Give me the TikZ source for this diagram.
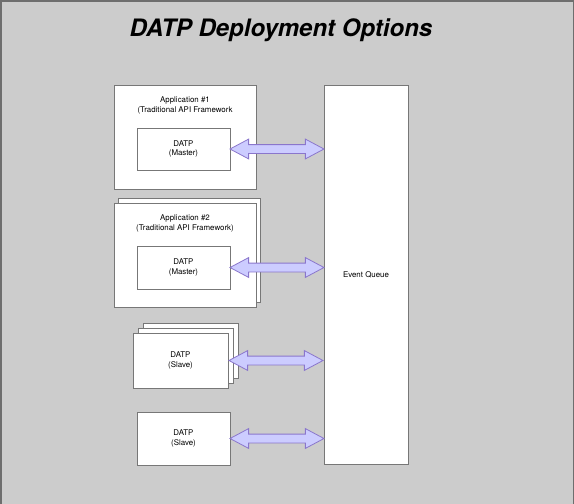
\documentclass[tikz,border=0pt]{standalone}
\usepackage{fontspec}
\setmainfont{TeX Gyre Heros}
\usetikzlibrary{shapes.arrows}

\definecolor{canvasgray}{HTML}{CCCCCC}
\definecolor{framegray}{HTML}{6E6E6E}
\definecolor{boxgray}{HTML}{777777}
\definecolor{arrowfill}{HTML}{CCCCFF}
\definecolor{arrowdraw}{HTML}{8A76CC}

\tikzset{
    box/.style={draw=boxgray, fill=white, line width=0.8pt, inner sep=0pt,
        align=center, font=\fontsize{7.9}{9.6}\selectfont},
    boxtext/.style={align=center, inner sep=0pt, font=\fontsize{7.9}{9.6}\selectfont},
    bigarrow/.style={double arrow, draw=arrowdraw, fill=arrowfill, line width=0.8pt,
        inner sep=4pt, minimum height=94pt, double arrow head extend=5.5pt,
        double arrow tip angle=56},
}

\begin{document}
\begin{tikzpicture}[x=1pt, y=-1pt]
    \fill[canvasgray] (0, 0) rectangle (574, 504);
    \useasboundingbox (0, 0) rectangle (574, 504);
    \draw[framegray, line width=3pt] (0, 504) -- (0, 0) -- (574, 0) -- (574, 504);

    \node[font=\fontsize{24}{28}\selectfont\bfseries\itshape] (title) at (281, 30) {DATP Deployment Options};

    % event queue
    \node[box, minimum width=84pt, minimum height=379pt] (queue) at (366, 274.5) {Event Queue};

    % application 1
    \node[box, minimum width=142pt, minimum height=104pt] (app1) at (185, 137) {};
    \node[boxtext] (app1txt) at (185, 105.5) {Application \#1\\(Traditional API Framework};
    \node[box, minimum width=93pt, minimum height=42pt] (master1) at (183.5, 149) {DATP\\(Master)};

    % application 2
    \node[box, minimum width=142pt, minimum height=104pt] (app2back) at (189, 250) {};
    \node[box, minimum width=142pt, minimum height=104pt] (app2) at (185, 255) {};
    \node[boxtext] (app2txt) at (185, 223.5) {Application \#2\\(Traditional API Framework)};
    \node[box, minimum width=93pt, minimum height=43pt] (master2) at (183.5, 267.5) {DATP\\(Master)};

    % slaves
    \foreach \k in {2,1}
        \node[box, minimum width=95pt, minimum height=55pt] (stack\k) at (180.5 + 5*\k, 360.5 - 5*\k) {};
    \node[box, minimum width=95pt, minimum height=55pt] (slave1) at (180.5, 360.5) {DATP\\(Slave)};
    \node[box, minimum width=93pt, minimum height=53pt] (slave2) at (183.5, 438.5) {DATP\\(Slave)};

    % arrows
    \path (master1.east) -- (master1.east -| queue.west) node[midway, bigarrow] (arrow1) {};
    \path (master2.east) -- (master2.east -| queue.west) node[midway, bigarrow] (arrow2) {};
    \path (slave1.east) -- (slave1.east -| queue.west) node[midway, bigarrow] (arrow3) {};
    \path (slave2.east) -- (slave2.east -| queue.west) node[midway, bigarrow] (arrow4) {};
\end{tikzpicture}
\end{document}
